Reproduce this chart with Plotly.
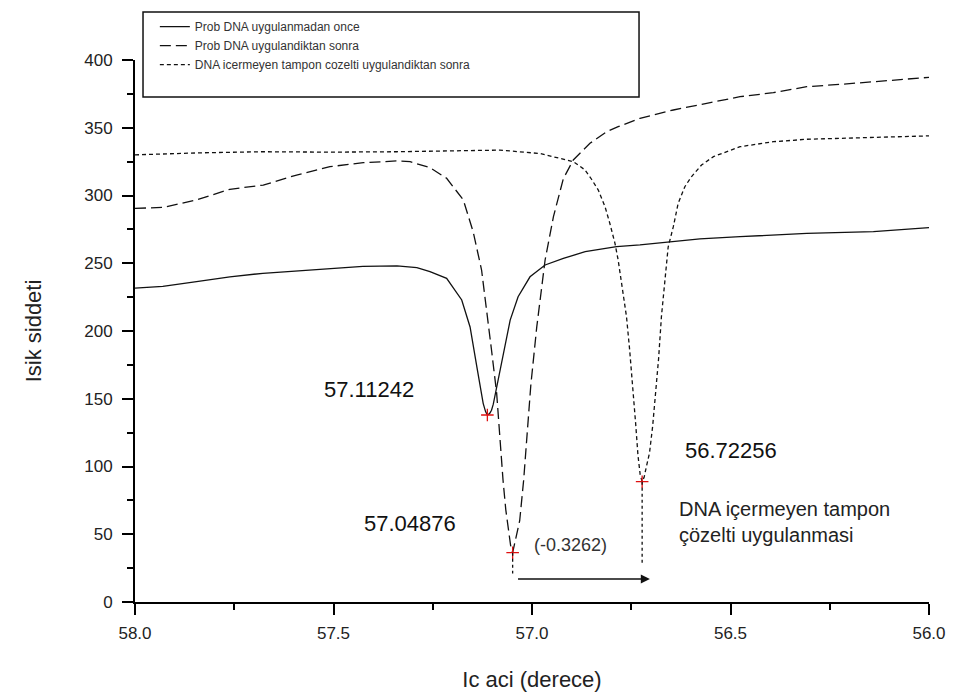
import plotly.graph_objects as go

# Angle (degrees) vs light intensity for three measurement stages
x_once = [58.0, 57.93, 57.845, 57.761, 57.678, 57.592, 57.509, 57.426, 57.340, 57.290,
          57.257, 57.215, 57.177, 57.156, 57.139, 57.131, 57.123, 57.117, 57.11242,
          57.107, 57.102, 57.0975, 57.088, 57.076, 57.055, 57.035, 57.005, 56.967,
          56.921, 56.866, 56.837, 56.787, 56.728, 56.652, 56.577, 56.476, 56.308,
          56.140, 56.0]
y_once = [231.7, 233.0, 236.4, 240.0, 242.6, 244.5, 246.2, 247.7, 248.0, 246.7,
          243.8, 238.9, 222.9, 203.0, 173.7, 160.0, 146.6, 140.5, 138.0,
          139.0, 141.5, 146.0, 160.0, 178.6, 208.0, 225.3, 240.0, 248.7,
          253.6, 258.5, 259.8, 262.2, 263.5, 265.9, 268.0, 269.6, 272.0,
          273.3, 276.3]

x_sonra = [58.0, 57.929, 57.845, 57.761, 57.677, 57.593, 57.509, 57.425, 57.341, 57.307,
           57.257, 57.215, 57.173, 57.148, 57.127, 57.114, 57.102, 57.089, 57.085,
           57.081, 57.073, 57.066, 57.060, 57.054, 57.04876, 57.042, 57.031, 57.021,
           57.012, 57.003, 56.988, 56.967, 56.946, 56.921, 56.896, 56.854, 56.812,
           56.783, 56.728, 56.644, 56.560, 56.476, 56.392, 56.308, 56.224, 56.140, 56.0]
y_sonra = [290.5, 291.2, 296.7, 304.6, 307.7, 315.1, 321.3, 324.2, 325.5, 325.0,
           320.5, 312.7, 296.7, 273.0, 245.0, 215.5, 186.0, 154.0, 136.0,
           122.0, 90.0, 68.0, 53.0, 42.0, 36.4, 45.0, 60.0, 90.0,
           125.0, 160.0, 203.0, 252.4, 284.4, 312.5, 326.2, 338.5, 347.1,
           350.8, 357.0, 363.1, 368.0, 372.9, 375.9, 380.3, 382.0, 384.0, 387.2]

x_tampon = [58.0, 57.836, 57.678, 57.509, 57.340, 57.207, 57.081, 56.980, 56.930, 56.896,
            56.867, 56.850, 56.833, 56.816, 56.804, 56.791, 56.783, 56.774, 56.762,
            56.754, 56.746, 56.739, 56.733, 56.7275, 56.72256, 56.7176, 56.7118,
            56.704, 56.696, 56.688, 56.681, 56.674, 56.665, 56.657, 56.644, 56.632,
            56.615, 56.598, 56.573, 56.543, 56.476, 56.392, 56.308, 56.140, 56.0]
y_tampon = [330.0, 331.5, 332.3, 332.0, 332.3, 333.0, 333.5, 331.0, 327.4, 325.0,
            319.0, 312.0, 304.0, 291.7, 279.5, 264.7, 252.4, 235.2, 210.6,
            186.0, 160.0, 132.0, 108.0, 94.0, 88.8, 92.0, 100.0,
            110.0, 130.0, 155.0, 180.0, 210.6, 240.0, 262.0, 277.0, 294.0,
            306.5, 314.0, 322.5, 328.7, 336.0, 339.7, 341.5, 343.0, 344.0]

# Resonance minima and their intensities
min_x = [57.11242, 57.04876, 56.72256]
min_y = [138.0, 36.4, 88.8]
shift = round(min_x[2] - min_x[1], 4)

names = ["Prob DNA uygulanmadan once",
         "Prob DNA uygulandiktan sonra",
         "DNA icermeyen tampon cozelti uygulandiktan sonra"]

FONT = "Liberation Sans, Arial, sans-serif"
INK = "#111111"

fig = go.Figure()
fig.add_trace(go.Scatter(x=x_once, y=y_once, mode="lines", name=names[0],
                         line=dict(color=INK, width=1.3)))
fig.add_trace(go.Scatter(x=x_sonra, y=y_sonra, mode="lines", name=names[1],
                         line=dict(color=INK, width=1.3, dash="11px,5px")))
fig.add_trace(go.Scatter(x=x_tampon, y=y_tampon, mode="lines", name=names[2],
                         line=dict(color=INK, width=1.3, dash="4px,3px")))
fig.add_trace(go.Scatter(x=min_x, y=min_y, mode="markers", showlegend=False,
                         marker=dict(symbol="cross-thin", size=9,
                                     line=dict(color="#e01010", width=1.3))))

# Drop lines from the two compared minima to the shift arrow
fig.add_shape(type="line", xref="x", yref="y", x0=min_x[1], x1=min_x[1],
              y0=min_y[1], y1=21, line=dict(color=INK, width=1.3, dash="3px,3px"))
fig.add_shape(type="line", xref="x", yref="y", x0=min_x[2], x1=min_x[2],
              y0=min_y[2], y1=28, line=dict(color=INK, width=1.3, dash="3px,3px"))

# Legend frame
fig.add_shape(type="rect", xref="paper", yref="paper",
              x0=0.0101, x1=0.6348, y0=0.9317, y1=1.0886,
              line=dict(color=INK, width=1.5), fillcolor="rgba(0,0,0,0)")

# Shift arrow
fig.add_annotation(x=56.703, y=17, ax=57.039, ay=17, xref="x", yref="y",
                   axref="x", ayref="y", text="", showarrow=True,
                   arrowhead=2, arrowsize=1.3, arrowwidth=1.4, arrowcolor=INK)

big = dict(family=FONT, size=22, color=INK)
fig.add_annotation(x=57.411, y=156.5, text=f"{min_x[0]:.5f}", showarrow=False, font=big)
fig.add_annotation(x=57.307, y=58.3, text=f"{min_x[1]:.5f}", showarrow=False, font=big)
fig.add_annotation(x=56.499, y=112, text=f"{min_x[2]:.5f}", showarrow=False, font=big)
fig.add_annotation(x=56.902, y=42, text=f"({shift})", showarrow=False,
                   font=dict(family=FONT, size=18, color="#333333"))
fig.add_annotation(x=56.635, y=59, xanchor="left", align="left",
                   text="DNA içermeyen tampon<br>çözelti uygulanmasi",
                   showarrow=False, font=dict(family=FONT, size=20, color="#222222"))

axis_common = dict(showline=True, linewidth=2, linecolor="#000000", mirror=False,
                   showgrid=False, zeroline=False, ticks="outside", ticklen=11,
                   tickwidth=2, tickcolor="#000000",
                   tickfont=dict(family=FONT, size=17, color="#222222"))

fig.update_xaxes(range=[58.0, 56.0], dtick=0.5, tick0=56.0, tickformat=".1f",
                 minor=dict(dtick=0.25, ticks="outside", ticklen=6, tickwidth=2,
                            tickcolor="#000000", showgrid=False),
                 ticklabelstandoff=4,
                 title=dict(text="Ic aci (derece)", standoff=29,
                            font=dict(family=FONT, size=22, color="#222222")),
                 **axis_common)
fig.update_yaxes(range=[0, 400], dtick=50, tick0=0,
                 minor=dict(dtick=25, ticks="outside", ticklen=6, tickwidth=2,
                            tickcolor="#000000", showgrid=False),
                 ticklabelstandoff=6,
                 title=dict(text="Isik siddeti", standoff=37,
                            font=dict(family=FONT, size=22, color="#222222")),
                 **axis_common)

fig.update_layout(
    width=959, height=699,
    margin=dict(l=135, r=30, t=60, b=97),
    paper_bgcolor="white", plot_bgcolor="white",
    showlegend=True,
    legend=dict(x=0.025, y=1.0885, xanchor="left", yanchor="top",
                bgcolor="rgba(0,0,0,0)", borderwidth=0,
                font=dict(family=FONT, size=12, color="#333333"),
                tracegroupgap=0),
)

fig.write_html("out.html")
